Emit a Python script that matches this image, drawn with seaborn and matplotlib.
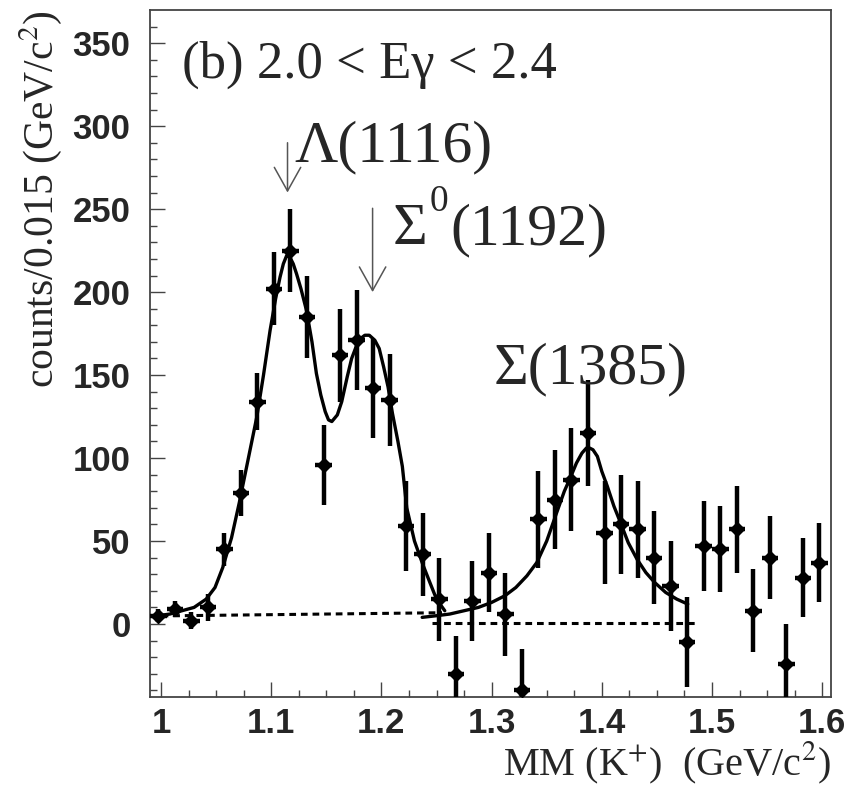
import numpy as np
import pandas as pd
import matplotlib
matplotlib.use('Agg')
import matplotlib.pyplot as plt
import seaborn as sns

# data points (bin centres, counts, errors)
mm = [0.9975, 1.0125, 1.0275, 1.0425, 1.0575, 1.0725, 1.0875, 1.1025, 1.1175, 1.1325,
      1.1475, 1.1625, 1.1775, 1.1925, 1.2075, 1.2225, 1.2375, 1.2525, 1.2675, 1.2825,
      1.2975, 1.3125, 1.3275, 1.3425, 1.3575, 1.3725, 1.3875, 1.4025, 1.4175, 1.4325,
      1.4475, 1.4625, 1.4775, 1.4925, 1.5075, 1.5225, 1.5375, 1.5525, 1.5675, 1.5825, 1.5975]
counts = [5, 9, 2, 10, 45, 79, 134, 202, 225, 185,
          96, 162, 171, 142, 135, 59, 42, 15, -30, 14,
          31, 6, -40, 63, 75, 87, 115, 55, 60, 57,
          40, 23, -11, 47, 45, 57, 8, 40, -24, 28, 37]
errs = [4, 5, 5, 8, 10, 14, 17, 22, 25, 25,
        24, 28, 30, 30, 28, 27, 25, 25, 23, 24,
        24, 25, 25, 29, 30, 31, 32, 31, 30, 29,
        28, 27, 27, 27, 26, 26, 25, 25, 24, 24, 24]

# fit curves
fit1_x = [0.990, 0.997, 1.008, 1.019, 1.030, 1.041, 1.049, 1.056, 1.064, 1.071,
          1.079, 1.087, 1.093, 1.099, 1.104, 1.108, 1.111, 1.114, 1.117, 1.120,
          1.123, 1.127, 1.132, 1.137, 1.141, 1.145, 1.149, 1.152, 1.155, 1.160,
          1.164, 1.169, 1.173, 1.177, 1.181, 1.185, 1.189, 1.194, 1.198, 1.202,
          1.206, 1.210, 1.215, 1.219, 1.223, 1.230, 1.2375, 1.244, 1.250, 1.2575]
fit1_y = [5, 5, 6, 8, 10, 15, 22, 34, 52, 73,
          99, 125, 150, 177, 196, 209, 217, 222, 221, 217,
          211, 202, 189, 170, 151, 138, 128, 123, 122, 126,
          134, 149, 160, 167, 172, 174, 174, 171, 166, 155,
          143, 127, 110, 95, 70, 50, 36, 25, 15, 8]
fit2_x = [1.237, 1.250, 1.262, 1.275, 1.288, 1.300, 1.312, 1.322, 1.332, 1.341,
          1.350, 1.359, 1.366, 1.372, 1.377, 1.382, 1.386, 1.389, 1.392, 1.396,
          1.400, 1.405, 1.411, 1.417, 1.424, 1.432, 1.440, 1.448, 1.458, 1.468, 1.478]
fit2_y = [4, 5, 6, 8, 10, 13, 17, 22, 29, 37,
          50, 67, 80, 89, 97, 103, 106, 106, 105, 101,
          92, 83, 71, 61, 49, 39, 31, 25, 19, 15, 12]
bg1_x = [0.990, 1.255]
bg1_y = [4.8, 6.8]
bg2_x = [1.246, 1.487]
bg2_y = [0.5, 0.5]

xticks = [1.0, 1.1, 1.2, 1.3, 1.4, 1.5, 1.6]
xticklabels = ['1', '1.1', '1.2', '1.3', '1.4', '1.5', '1.6']
yticks = [0, 50, 100, 150, 200, 250, 300, 350]

sns.set_style('ticks')
plt.rcParams['mathtext.fontset'] = 'stix'
serif = ['Liberation Serif', 'DejaVu Serif']

fig = plt.figure(figsize=(8.65, 7.86), dpi=100)
ax = fig.add_axes([0.1734, 0.1132, 0.7873, 0.8741])

df = pd.DataFrame({'mm': mm, 'counts': counts, 'err': errs})
ax.errorbar(df['mm'], df['counts'], yerr=df['err'], xerr=0.0075, fmt='D', color='black',
            ms=7.5, elinewidth=3.2, capsize=0, zorder=3)

sns.lineplot(x=fit1_x, y=fit1_y, ax=ax, color='black', lw=2.4, sort=False)
sns.lineplot(x=fit2_x, y=fit2_y, ax=ax, color='black', lw=2.4, sort=False)
ax.plot(bg1_x, bg1_y, color='black', lw=2.2, ls=(0, (2.2, 1.6)))
ax.plot(bg2_x, bg2_y, color='black', lw=2.2, ls=(0, (2.2, 1.6)))

ax.set_xlim(0.99, 1.608)
ax.set_ylim(-44, 370)

ax.set_xticks(xticks)
ax.set_xticklabels(xticklabels)
ax.set_yticks(yticks)
ax.set_xticks(np.arange(1.0, 1.6001, 0.025), minor=True)
ax.set_yticks(np.arange(-40, 370, 10), minor=True)
ax.tick_params(which='both', direction='in', width=1, color='#444444')
ax.tick_params(which='major', length=11)
ax.tick_params(which='minor', length=5)
ax.tick_params(axis='x', which='major', pad=7)
ax.tick_params(axis='y', which='major', pad=14)
for lab in ax.get_xticklabels() + ax.get_yticklabels():
    lab.set_fontfamily('Liberation Sans')
    lab.set_fontweight('bold')
    lab.set_fontsize(25)
for sp in ax.spines.values():
    sp.set_linewidth(1.3)
    sp.set_color('#444444')

ax.set_xlabel('MM (K$^{+}$)  (GeV/c$^{2}$)', family=serif, fontsize=29, loc='right', labelpad=0)
ax.set_ylabel('counts/0.015 (GeV/c$^{2}$)', family=serif, fontsize=30, loc='top', labelpad=6)

ax.text(1.019, 329, '(b) 2.0 < E\u03b3 < 2.4', family=serif, fontsize=38, ha='left', va='baseline')
ax.text(1.121, 279, '\u039b(1116)', family=serif, fontsize=43, ha='left', va='baseline')
ax.text(1.210, 229, '\u03a3', family=serif, fontsize=43, ha='left', va='baseline')
ax.text(1.2435, 249, '0', family=serif, fontsize=27, ha='left', va='baseline')
ax.text(1.2625, 229, '(1192)', family=serif, fontsize=43, ha='left', va='baseline')
ax.text(1.302, 145, '\u03a3(1385)', family=serif, fontsize=43, ha='left', va='baseline')

arrow = dict(arrowstyle='->,head_length=1.7,head_width=0.95', color='#555555', lw=1.1,
             shrinkA=0, shrinkB=0)
ax.annotate('', xy=(1.1148, 260), xytext=(1.1148, 290), arrowprops=arrow)
ax.annotate('', xy=(1.192, 200), xytext=(1.192, 250.5), arrowprops=arrow)

fig.savefig('out.png', dpi=100)
